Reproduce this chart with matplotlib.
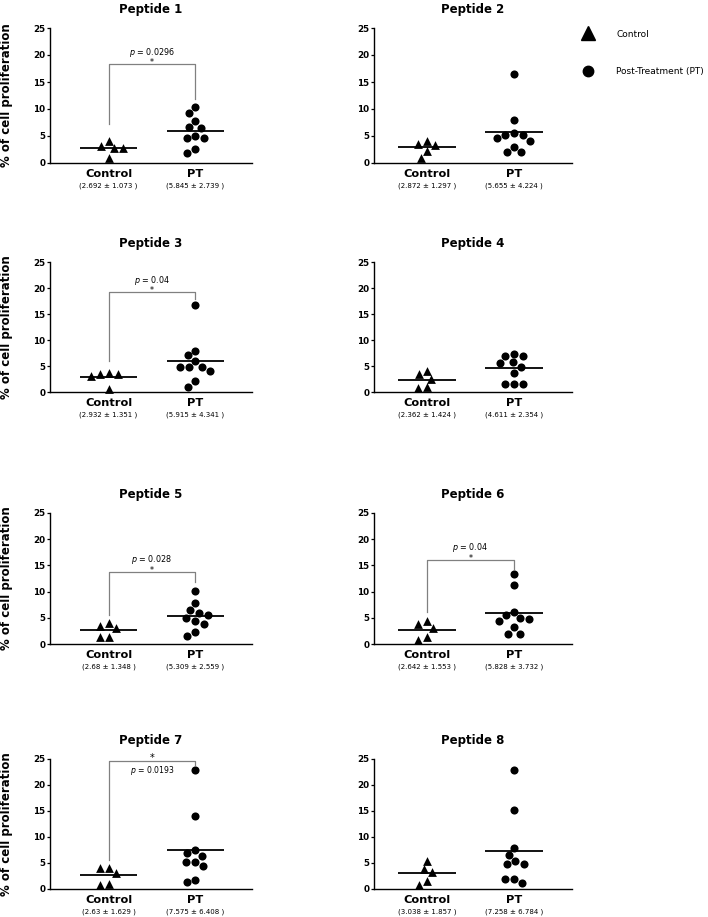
import matplotlib
matplotlib.use('Agg')
import matplotlib.pyplot as plt
from matplotlib.lines import Line2D
import numpy as np

# data
peptides = ['Peptide 1', 'Peptide 2', 'Peptide 3', 'Peptide 4',
            'Peptide 5', 'Peptide 6', 'Peptide 7', 'Peptide 8']
groups = ['Control', 'PT']

control_vals = [
    [4.0, 2.7, 2.7, 3.1, 1.0],
    [3.6, 3.3, 4.1, 2.2, 0.9],
    [3.7, 3.5, 3.1, 3.5, 0.5],
    [3.4, 4.0, 2.5, 0.8, 1.0],
    [3.5, 3.1, 4.0, 1.3, 1.3],
    [3.8, 3.0, 4.3, 0.8, 1.3],
    [4.0, 3.1, 4.0, 0.8, 1.0],
    [5.4, 3.8, 3.3, 1.5, 0.8],
]
pt_vals = [
    [10.4, 9.2, 7.8, 6.4, 6.6, 4.6, 4.6, 5.0, 1.8, 2.6],
    [16.4, 8.0, 5.2, 4.7, 5.6, 5.1, 4.1, 3.0, 2.0, 2.0],
    [16.8, 7.9, 7.05, 5.9, 4.8, 4.8, 4.8, 4.0, 2.05, 1.0],
    [6.9, 7.4, 6.9, 5.6, 5.7, 4.9, 3.6, 1.6, 1.6, 1.6],
    [10.1, 7.9, 6.5, 5.6, 5.0, 5.9, 4.3, 3.8, 1.6, 2.2],
    [13.4, 11.3, 6.2, 5.5, 4.8, 4.4, 4.9, 3.3, 2.0, 2.0],
    [22.8, 14.0, 7.5, 6.3, 6.9, 5.1, 4.5, 5.2, 1.4, 1.7],
    [22.8, 15.2, 7.9, 6.5, 4.8, 4.8, 5.3, 2.0, 1.85, 1.15],
]
control_mean = [2.692, 2.872, 2.932, 2.362, 2.68, 2.642, 2.63, 3.038]
control_sd = [1.073, 1.297, 1.351, 1.424, 1.348, 1.553, 1.629, 1.857]
pt_mean = [5.845, 5.655, 5.915, 4.611, 5.309, 5.828, 7.575, 7.258]
pt_sd = [2.739, 4.224, 4.341, 2.354, 2.559, 3.732, 6.408, 6.784]
p_values = ['0.0296', None, '0.04', None, '0.028', '0.04', '0.0193', None]

# bracket layout: (bar height, left leg end, right leg end, star above bar)
brackets = {
    0: (18.3, 7.3, 11.9, False),
    2: (19.2, 6.0, 17.8, False),
    4: (13.8, 5.5, 11.9, False),
    5: (16.1, 6.1, 14.3, False),
    6: (24.7, 5.6, 23.8, True),
}

W, H = 708, 917
col_px = [(50, 252), (374, 572)]
row_px = [(28, 163), (262, 392), (513, 644), (759, 889)]
col_frac = [(0.29, 0.72), (0.268, 0.707)]  # where Control / PT sit in the axes
PX_X = 87.0   # pixels per x unit
PX_Y = 5.25   # pixels per y unit
DOT = 9.0     # marker spacing in pixels


def swarm(vals):
    ys = np.array(vals) * PX_Y
    xs = np.zeros(len(ys))
    placed = []
    for i in np.argsort(-ys, kind='stable'):
        cands = [0.0]
        for j in placed:
            dy = ys[i] - ys[j]
            if abs(dy) < DOT:
                dx = np.sqrt(DOT ** 2 - dy ** 2)
                cands += [xs[j] - dx, xs[j] + dx]
        cands.sort(key=lambda c: (round(abs(c), 6), c))
        for c in cands:
            if all((c - xs[j]) ** 2 + (ys[i] - ys[j]) ** 2 >= DOT ** 2 - 1e-6 for j in placed):
                xs[i] = c
                break
        placed.append(i)
    return xs / PX_X


fig = plt.figure(figsize=(W / 100, H / 100), dpi=100)

for k in range(8):
    r, c = divmod(k, 2)
    x0, x1 = col_px[c]
    t0, b0 = row_px[r]
    ax = fig.add_axes([x0 / W, 1 - b0 / H, (x1 - x0) / W, (b0 - t0) / H])

    f0, f1 = col_frac[c]
    ax.set_xlim(-f0 / (f1 - f0), (1 - f0) / (f1 - f0))
    ax.set_ylim(0, 25)

    ax.scatter(0 + swarm(control_vals[k]), control_vals[k], marker='^', s=40,
               color='black', linewidths=0, clip_on=False, zorder=3)
    ax.scatter(1 + swarm(pt_vals[k]), pt_vals[k], marker='o', s=34,
               color='black', linewidths=0, clip_on=False, zorder=3)
    ax.hlines([control_mean[k], pt_mean[k]], [-0.33, 0.67], [0.33, 1.33],
              color='black', lw=1.3, zorder=4)

    if k in brackets:
        bar, lleg, rleg, star_top = brackets[k]
        ax.plot([0, 0, 1, 1], [lleg, bar, bar, rleg], color='#808080', lw=0.9)
        ptxt = r'$p$ = ' + p_values[k]
        if star_top:
            ax.text(0.5, bar - 0.4, '*', ha='center', va='bottom', fontsize=7)
            ax.text(0.5, bar - 0.6, ptxt, ha='center', va='top', fontsize=5.6)
        else:
            ax.text(0.5, bar - 0.6, ptxt + '\n*', ha='center', va='bottom',
                    fontsize=5.8, linespacing=0.95, multialignment='center')

    for side in ['top', 'right']:
        ax.spines[side].set_visible(False)
    for side in ['left', 'bottom']:
        ax.spines[side].set_linewidth(1.0)

    ax.set_yticks(np.arange(0, 26, 5))
    ax.tick_params(axis='y', length=2.5, width=0.9, pad=0.8, labelsize=6.3)
    for lab in ax.get_yticklabels():
        lab.set_fontweight('bold')
    ax.set_xticks([0, 1])
    ax.set_xticklabels(groups, fontsize=8.2, fontweight='bold')
    ax.tick_params(axis='x', length=0, pad=4)

    stats = [f'({control_mean[k]} ± {control_sd[k]} )', f'({pt_mean[k]} ± {pt_sd[k]} )']
    for xi, s in enumerate(stats):
        ax.annotate(s, xy=(xi, 0), xycoords=('data', 'axes fraction'),
                    xytext=(0, -16.5), textcoords='offset points',
                    ha='center', va='center', fontsize=5)

    ax.set_title(peptides[k], fontsize=8.5, fontweight='bold', pad=11)
    if c == 0:
        ax.set_ylabel('% of cell proliferation', fontsize=8.5, fontweight='bold')
        ax.yaxis.set_label_coords(-0.185, 0.5)

handles = [Line2D([], [], marker='^', ls='', color='black', markersize=10),
           Line2D([], [], marker='o', ls='', color='black', markersize=7.5)]
fig.legend(handles, ['Control', 'Post-Treatment (PT)'], loc='upper left',
           bbox_to_anchor=(579 / W, 1 - 26 / H), frameon=False, fontsize=6.5,
           labelspacing=3.15, handletextpad=2.5, handlelength=1.2, borderaxespad=0)

fig.savefig('out.png', dpi=100)
